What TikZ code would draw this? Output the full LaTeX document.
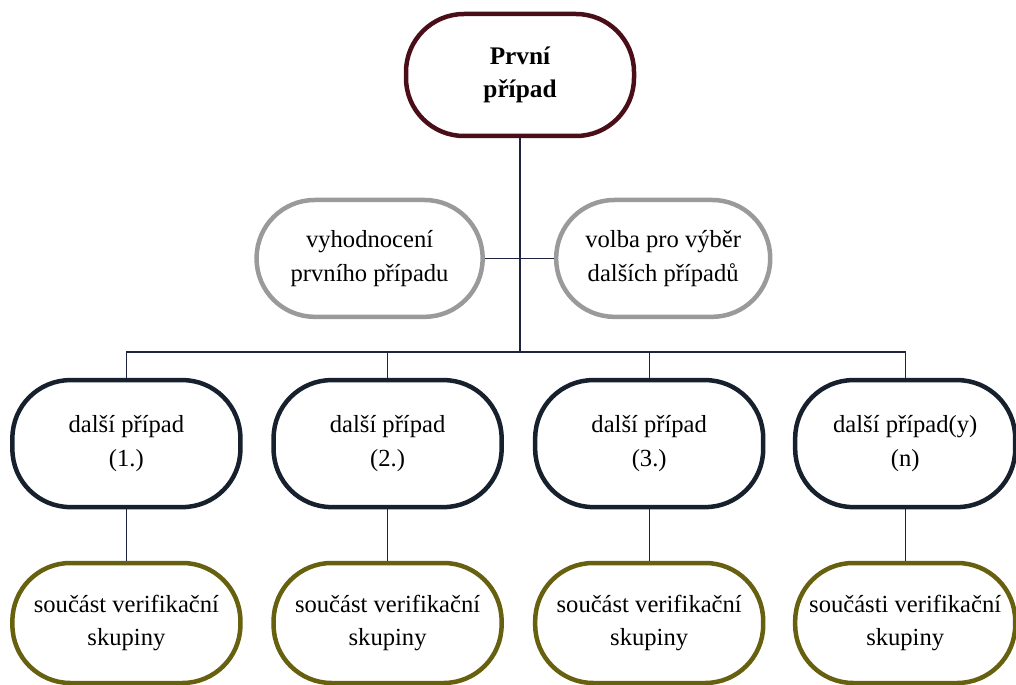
\documentclass[tikz,border=0pt]{standalone}
\usepackage{fontspec}
\setmainfont{Liberation Serif}
\usepackage{xcolor}
\usepackage{tikz}

\definecolor{topred}{HTML}{4A0E18}
\definecolor{midgray}{HTML}{9A9A9A}
\definecolor{casenavy}{HTML}{17202D}
\definecolor{groupolive}{HTML}{66600F}
\definecolor{linkblue}{HTML}{1F2340}

\begin{document}
\begin{tikzpicture}[
        pill/.style={draw, line width=3.2pt, rounded corners=1.45cm, align=center,
            minimum width=5.7cm, minimum height=3.05cm, inner sep=0pt,
            font=\fontsize{17.5}{24}\selectfont},
        link/.style={draw=linkblue, line width=1pt}
    ]
            \useasboundingbox (0, 0) rectangle (25.4, -17.125);

            \node[pill, draw=topred, font=\fontsize{18}{23}\selectfont\bfseries] (first) at (13.0, -1.875) {První\\případ};

            \node[pill, draw=midgray, minimum width=5.65cm, minimum height=2.92cm] (eval) at (9.24, -6.46) {vyhodnocení\\prvního případu};
            \node[pill, draw=midgray, minimum width=5.35cm, minimum height=2.92cm] (choice) at (16.58, -6.46) {volba pro výběr\\dalších případů};

            \node[pill, draw=casenavy, minimum height=3.175cm] (case1) at (3.16, -11.09) {další případ\\(1.)};
            \node[pill, draw=casenavy, minimum height=3.175cm] (case2) at (9.69, -11.09) {další případ\\(2.)};
            \node[pill, draw=casenavy, minimum height=3.175cm] (case3) at (16.23, -11.09) {další případ\\(3.)};
            \node[pill, draw=casenavy, minimum height=3.175cm, minimum width=5.5cm] (casen) at (22.63, -11.09) {další případ(y)\\(n)};

            \node[pill, draw=groupolive, minimum height=3.0cm] (group1) at (3.16, -15.575) {součást verifikační\\skupiny};
            \node[pill, draw=groupolive, minimum height=3.0cm] (group2) at (9.69, -15.575) {součást verifikační\\skupiny};
            \node[pill, draw=groupolive, minimum height=3.0cm] (group3) at (16.23, -15.575) {součást verifikační\\skupiny};
            \node[pill, draw=groupolive, minimum height=3.0cm, minimum width=5.5cm] (groupn) at (22.63, -15.575) {součásti verifikační\\skupiny};

            \coordinate (bar) at (13.0, -8.8);

            \draw[link] (first.south) -- (bar);
            \draw[link] (eval.east) -- (choice.west);
            \foreach \c in {case1, case2, case3, casen} {
                \draw[link] (bar) -| (\c.north);
            }
            \draw[link] (case1.south) -- (group1.north);
            \draw[link] (case2.south) -- (group2.north);
            \draw[link] (case3.south) -- (group3.north);
            \draw[link] (casen.south) -- (groupn.north);
        \end{tikzpicture}
\end{document}
